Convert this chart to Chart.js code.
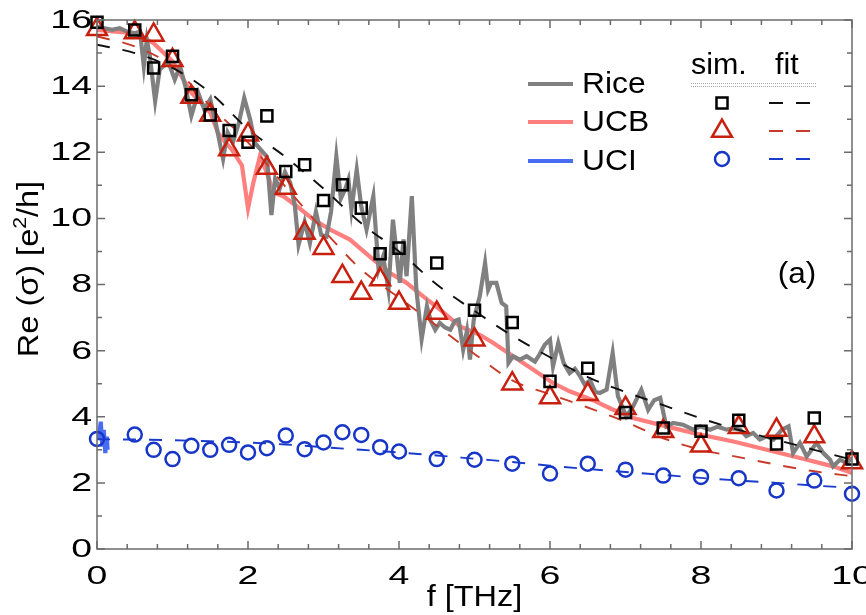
<!DOCTYPE html>
<html>
<head>
<meta charset="utf-8">
<script src="https://cdn.jsdelivr.net/npm/chart.js@4.4.1/dist/chart.umd.min.js"></script>
<style>
  html, body { margin: 0; padding: 0; background: #fff; }
</style>
</head>
<body>
<canvas id="sigma-chart" width="866" height="615"></canvas>
<script>
// frequencies of the simulated points [THz]
const simFreq = [0, 0.5, 0.75, 1, 1.25, 1.5, 1.75, 2, 2.25, 2.5, 2.75, 3, 3.25, 3.5, 3.75, 4,
                 4.5, 5, 5.5, 6, 6.5, 7, 7.5, 8, 8.5, 9, 9.5, 10];
const riceSim = [15.93, 15.7, 14.55, 14.9, 13.74, 13.13, 12.66, 12.3, 13.1, 11.42, 11.62, 10.54, 11.02, 10.31, 8.93, 9.1,
                 8.65, 7.22, 6.85, 5.07, 5.47, 4.13, 3.66, 3.56, 3.89, 3.18, 3.96, 2.72];
const ucbSim = [15.72, 15.62, 15.55, 14.78, 13.67, 13.13, 12.08, 12.53, 11.52, 10.92, 9.56, 9.1, 8.25, 7.74, 8.15, 7.44,
                7.14, 6.33, 5.0, 4.58, 4.68, 4.26, 3.56, 3.12, 3.68, 3.6, 3.4, 2.62];
const uciSim = [3.33, 3.46, 3.0, 2.72, 3.12, 3.0, 3.15, 2.92, 3.05, 3.43, 3.02, 3.22, 3.53, 3.45, 3.08, 2.95,
                2.72, 2.7, 2.58, 2.28, 2.58, 2.4, 2.22, 2.18, 2.14, 1.77, 2.07, 1.67];

// fitted curves
const fitFreq = [0, 0.5, 1, 1.5, 2, 2.5, 3, 3.5, 4, 4.5, 5, 5.5, 6, 6.5, 7, 7.5, 8, 8.5, 9, 9.5, 10];
const riceFit = [15.25, 15.0, 14.55, 13.8, 12.7, 11.85, 10.9, 9.85, 9.0, 8.0, 7.2, 6.45, 5.8, 5.2, 4.75, 4.35, 3.95, 3.6, 3.3, 3.0, 2.7];
const ucbFit = [15.5, 15.2, 14.6, 13.4, 12.3, 10.95, 9.65, 8.45, 7.6, 6.75, 5.9, 5.1, 4.68, 4.28, 3.85, 3.35, 3.0, 2.78, 2.55, 2.35, 2.2];
const uciFit = [3.32, 3.31, 3.29, 3.26, 3.22, 3.16, 3.08, 3.0, 2.92, 2.83, 2.73, 2.63, 2.52, 2.42, 2.33, 2.24, 2.15, 2.07, 2.0, 1.92, 1.85];

// Rice measurement
const riceFreq = [0, 0.1, 0.2, 0.3, 0.4, 0.5, 0.57, 0.62, 0.66, 0.7, 0.77, 0.83, 0.88, 0.95, 1.03, 1.1, 1.17, 1.25, 1.34, 1.42,
                  1.5, 1.58, 1.67, 1.73, 1.8, 1.88, 1.95, 2.03, 2.09, 2.18, 2.25, 2.31, 2.36, 2.42, 2.49, 2.56, 2.62, 2.67, 2.75, 2.82,
                  2.9, 2.97, 3.04, 3.1, 3.17, 3.23, 3.29, 3.33, 3.37, 3.44, 3.5, 3.57, 3.66, 3.73, 3.79, 3.86, 3.92, 4.01, 4.06, 4.1,
                  4.17, 4.23, 4.3, 4.37, 4.42, 4.48, 4.54, 4.61, 4.68, 4.74, 4.79, 4.85, 4.9, 4.94, 4.99, 5.07, 5.14, 5.18, 5.22, 5.29,
                  5.36, 5.42, 5.45, 5.51, 5.6, 5.69, 5.8, 5.86, 5.93, 6.0, 6.04, 6.11, 6.18, 6.26, 6.33, 6.4, 6.46, 6.53, 6.6, 6.66,
                  6.75, 6.83, 6.9, 7.01, 7.1, 7.21, 7.3, 7.38, 7.46, 7.54, 7.63, 7.76, 7.9, 7.99, 8.12, 8.22, 8.34, 8.43, 8.52, 8.6,
                  8.69, 8.78, 8.87, 8.96, 9.07, 9.16, 9.22, 9.31, 9.4, 9.53, 9.62, 9.71, 9.75, 9.84, 9.93, 10];
const riceLine = [15.8, 15.75, 15.7, 15.75, 15.65, 15.6, 15.65, 14.6, 15.4, 14.9, 13.55, 14.5, 14.6, 14.7, 14.2, 14.6, 14.0, 13.1, 13.8, 13.3,
                  13.6, 12.8, 11.8, 12.6, 12.3, 12.9, 13.64, 12.98, 12.28, 12.05, 11.87, 10.1, 11.2, 10.9, 11.4, 11.07, 10.4, 9.2, 9.9, 9.25,
                  10.2, 9.5, 9.45, 10.2, 11.87, 10.6, 10.9, 11.17, 10.26, 11.47, 10.36, 9.66, 10.67, 8.45, 8.85, 7.84, 9.96, 8.05, 9.36, 8.25,
                  10.67, 7.84, 6.35, 7.34, 6.9, 6.63, 6.84, 6.7, 6.63, 6.9, 6.94, 6.03, 6.6, 5.73, 6.94, 7.64, 8.65, 7.84, 8.05, 8.05,
                  7.44, 7.34, 5.63, 5.83, 5.73, 5.83, 5.67, 5.88, 6.18, 6.33, 5.52, 6.23, 5.63, 5.32, 5.45, 5.22, 4.97, 5.1, 4.75, 4.72,
                  4.82, 5.93, 4.62, 4.01, 4.31, 4.82, 4.21, 4.5, 4.57, 3.71, 3.81, 3.76, 3.61, 3.71, 3.61, 3.7, 3.61, 3.65, 3.61, 3.41,
                  3.51, 3.31, 3.41, 3.31, 3.61, 3.71, 2.9, 3.21, 2.8, 3.21, 2.9, 2.7, 2.5, 2.7, 2.6, 2.75];

// UCB measurement
const ucbFreq = [0, 0.25, 0.5, 0.75, 1.0, 1.25, 1.5, 1.6, 1.7, 1.78, 1.92, 2.0, 2.07, 2.16, 2.25, 2.34, 2.47, 2.65, 2.87, 3.09,
                 3.35, 3.66, 3.88, 4.1, 4.32, 4.54, 4.81, 5.07, 5.25, 5.51, 5.78, 6.04, 6.26, 6.57, 6.8, 7.1, 7.54, 7.99, 8.43, 8.87,
                 9.31, 9.75, 10];
const ucbLine = [15.7, 15.65, 15.6, 15.3, 14.75, 13.8, 13.2, 12.6, 12.3, 12.1, 11.6, 10.3, 11.07, 11.9, 11.37, 10.77, 10.67, 10.36, 9.96, 9.66,
                 9.36, 8.75, 8.35, 8.05, 7.64, 7.25, 6.73, 6.48, 6.23, 5.83, 5.42, 5.02, 4.77, 4.5, 4.25, 3.96, 3.71, 3.46, 3.25, 3.0,
                 2.75, 2.5, 2.3];

// UCI measurement (low frequency only)
const uciFreq = [0.02, 0.05, 0.07, 0.09, 0.11, 0.13, 0.14];
const uciLine = [3.3, 3.85, 3.1, 3.6, 2.9, 3.4, 3.0];

const FONT = "'Liberation Sans', Arial, Helvetica, sans-serif";

const BLACK = '#000000';
const RED = '#c8200e';
const BLUE = '#1736c8';
const RICE_GREY = '#808080';
const UCB_PINK = '#ff7f7f';
const UCI_BLUE = '#4a6cf2';

function pairs(xs, ys) {
    return xs.map((x, i) => ({ x: x, y: ys[i] }));
}

function markerSet(label, ys, style, radius, color) {
    return {
        label: label,
        data: pairs(simFreq, ys),
        showLine: false,
        pointStyle: style,
        pointRadius: radius,
        pointBorderWidth: 2.5,
        pointBorderColor: color,
        pointBackgroundColor: 'rgba(0,0,0,0)',
        borderColor: color,
        clip: false
    };
}

function fitSet(label, ys, color) {
    return {
        label: label,
        data: pairs(fitFreq, ys),
        showLine: true,
        borderColor: color,
        borderWidth: 1.9,
        borderDash: [13, 13],
        pointRadius: 0,
        cubicInterpolationMode: 'monotone',
        fill: false
    };
}

function measSet(label, xs, ys, color) {
    return {
        label: label,
        data: pairs(xs, ys),
        showLine: true,
        borderColor: color,
        borderWidth: 4.2,
        pointRadius: 0,
        tension: 0,
        fill: false
    };
}

// text widened along its own direction
function wideText(ctx, text, px, py, sx, align) {
    ctx.save();
    ctx.translate(px, py);
    ctx.scale(sx, 1);
    ctx.textAlign = align;
    ctx.fillText(text, 0, 0);
    ctx.restore();
}

// box with inward ticks on all four sides
const framePlugin = {
    id: 'frame',
    afterDatasetsDraw(chart) {
        const { ctx, chartArea: a, scales } = chart;
        const sx = scales.x, sy = scales.y;
        ctx.save();
        ctx.strokeStyle = '#6b6b6b';
        ctx.lineWidth = 1.5;
        ctx.strokeRect(a.left, a.top, a.right - a.left, a.bottom - a.top);
        ctx.beginPath();
        for (let i = 0; i <= 25; i++) {
            const px = sx.getPixelForValue(i * 0.4);
            const len = i % 5 === 0 ? 8 : 5;
            ctx.moveTo(px, a.bottom); ctx.lineTo(px, a.bottom - len);
            ctx.moveTo(px, a.top); ctx.lineTo(px, a.top + len);
        }
        for (let j = 0; j <= 16; j++) {
            const py = sy.getPixelForValue(j);
            const len = j % 2 === 0 ? 8 : 5;
            ctx.moveTo(a.left, py); ctx.lineTo(a.left + len, py);
            ctx.moveTo(a.right, py); ctx.lineTo(a.right - len, py);
        }
        ctx.stroke();
        ctx.restore();
    }
};

// tick labels and axis titles
const axisTextPlugin = {
    id: 'axisText',
    afterDraw(chart) {
        const { ctx, chartArea: a, scales } = chart;
        const sx = scales.x, sy = scales.y;
        ctx.save();
        ctx.fillStyle = '#000';
        ctx.textBaseline = 'middle';
        ctx.font = '25px ' + FONT;
        sx.ticks.forEach(t => wideText(ctx, t.label, sx.getPixelForValue(t.value), 577, 1.5, 'center'));
        sy.ticks.forEach(t => wideText(ctx, t.label, 92, sy.getPixelForValue(t.value) + 1, 1.5, 'right'));

        ctx.font = '29px ' + FONT;
        wideText(ctx, 'f [THz]', (a.left + a.right) / 2, 598, 1.12, 'center');

        // y title with a real superscript
        const stretch = 1.12;
        const partA = 'Re (σ) [e', sup = '2', partB = '/h]';
        ctx.font = '29px ' + FONT;
        const wA = ctx.measureText(partA).width, wB = ctx.measureText(partB).width;
        ctx.font = '19px ' + FONT;
        const wS = ctx.measureText(sup).width;
        const total = wA + wS + wB;
        ctx.translate(30, 269);
        ctx.rotate(-Math.PI / 2);
        ctx.scale(stretch, 1);
        ctx.textAlign = 'left';
        let cx = -total / 2;
        ctx.font = '29px ' + FONT;
        ctx.fillText(partA, cx, 0);
        cx += wA;
        ctx.font = '19px ' + FONT;
        ctx.fillText(sup, cx, -9);
        cx += wS;
        ctx.font = '29px ' + FONT;
        ctx.fillText(partB, cx, 0);
        ctx.restore();
    }
};

// two-part legend: measurements on the left, sim./fit table on the right
const legendPlugin = {
    id: 'dualLegend',
    afterDraw(chart) {
        const ctx = chart.ctx;
        const ds = chart.data.datasets;
        ctx.save();
        ctx.textBaseline = 'middle';
        ctx.textAlign = 'left';
        ctx.font = '30px ' + FONT;

        const lines = [ds[6], ds[7], ds[8]];
        const rowsY = [84, 122, 161];
        lines.forEach((d, i) => {
            ctx.strokeStyle = d.borderColor;
            ctx.lineWidth = 4;
            ctx.beginPath();
            ctx.moveTo(528, rowsY[i]);
            ctx.lineTo(573, rowsY[i]);
            ctx.stroke();
            ctx.fillStyle = '#000';
            wideText(ctx, d.label, 582, rowsY[i] + 1, 1.06, 'left');
        });

        ctx.font = '29px ' + FONT;
        wideText(ctx, 'sim.', 691, 66, 1.05, 'left');
        wideText(ctx, 'fit', 775, 66, 1.05, 'left');

        ctx.strokeStyle = '#a8a8a8';
        ctx.lineWidth = 1;
        ctx.setLineDash([1, 1]);
        [83.5, 86.5].forEach(yy => {
            ctx.beginPath();
            ctx.moveTo(691, yy);
            ctx.lineTo(817, yy);
            ctx.stroke();
        });

        const marks = [ds[0], ds[1], ds[2]];
        const fits = [ds[3], ds[4], ds[5]];
        const tableY = [103, 131, 159];
        marks.forEach((d, i) => {
            ctx.setLineDash([]);
            ctx.strokeStyle = d.pointBorderColor;
            ctx.fillStyle = 'rgba(0,0,0,0)';
            ctx.lineWidth = 2.5;
            Chart.helpers.drawPoint(ctx, {
                pointStyle: d.pointStyle,
                radius: d.pointRadius,
                borderWidth: 2.5,
                rotation: 0
            }, 722, tableY[i]);
            ctx.strokeStyle = fits[i].borderColor;
            ctx.lineWidth = 1.9;
            ctx.setLineDash([14, 13]);
            ctx.beginPath();
            ctx.moveTo(769, tableY[i]);
            ctx.lineTo(810, tableY[i]);
            ctx.stroke();
        });

        ctx.setLineDash([]);
        ctx.fillStyle = '#000';
        ctx.font = '30px ' + FONT;
        wideText(ctx, '(a)', 797, 275, 1.05, 'center');
        ctx.restore();
    }
};

const ctx = document.getElementById('sigma-chart').getContext('2d');
const chart = new Chart(ctx, {
    type: 'scatter',
    data: {
        datasets: [
            markerSet('Rice sim.', riceSim, 'rect', 7.8, BLACK),
            markerSet('UCB sim.', ucbSim, 'triangle', 11.5, RED),
            markerSet('UCI sim.', uciSim, 'circle', 7, BLUE),
            fitSet('Rice fit', riceFit, '#111111'),
            fitSet('UCB fit', ucbFit, '#c83a2a'),
            fitSet('UCI fit', uciFit, '#1a3ccc'),
            measSet('Rice', riceFreq, riceLine, RICE_GREY),
            measSet('UCB', ucbFreq, ucbLine, UCB_PINK),
            measSet('UCI', uciFreq, uciLine, UCI_BLUE)
        ]
    },
    options: {
        responsive: false,
        animation: false,
        devicePixelRatio: 1,
        layout: { padding: { top: 20, right: 14, left: 0, bottom: 0 } },
        plugins: {
            legend: { display: false },
            tooltip: { enabled: false }
        },
        scales: {
            x: {
                type: 'linear',
                min: 0,
                max: 10,
                afterFit(scale) {
                    scale.height = 66;
                    scale.paddingLeft = 0;
                    scale.paddingRight = 0;
                },
                grid: { display: false, drawTicks: false },
                border: { display: false },
                ticks: { stepSize: 2, display: false }
            },
            y: {
                type: 'linear',
                min: 0,
                max: 16,
                afterFit(scale) {
                    scale.width = 97;
                    scale.paddingTop = 0;
                    scale.paddingBottom = 0;
                },
                grid: { display: false, drawTicks: false },
                border: { display: false },
                ticks: { stepSize: 2, display: false }
            }
        }
    },
    plugins: [framePlugin, axisTextPlugin, legendPlugin]
});
</script>
</body>
</html>
